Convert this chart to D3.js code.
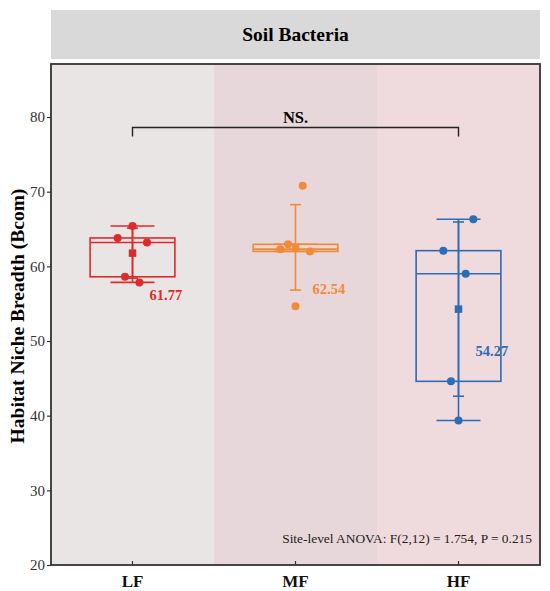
<!DOCTYPE html>
<html>
<head>
<meta charset="utf-8">
<script src="https://cdn.jsdelivr.net/npm/d3@7"></script>
<style>
body { margin: 0; background: #fff; }
text { font-family: "Liberation Serif", "Times New Roman", serif; }
</style>
</head>
<body>
<div id="chart"></div>
<script>
// data
const groups = ["LF", "MF", "HF"];
const valuesLF = [65.4, 63.8, 63.2, 58.6, 57.85];
const valuesMF = [70.8, 62.95, 62.3, 62.0, 54.65];
const valuesHF = [66.3, 62.1, 59.0, 44.6, 39.35];
const meanLabels = ["61.77", "62.54", "54.27"];
const yTicks = [20, 30, 40, 50, 60, 70, 80];
// jitter as a fraction of the band width
const jitterLF = [0, -0.091, 0.089, -0.046, 0.042];
const jitterMF = [0.044, -0.046, -0.093, 0.089, 0];
const jitterHF = [0.091, -0.093, 0.044, -0.046, 0];

const colors = ["#DD2A2B", "#F08B3B", "#2E6CB4"];
const bandFills = ["#E9E5E5", "#E8D7DA", "#EFDADD"];

const title = "Soil Bacteria",
	yLabel = "Habitat Niche Breadth (Bcom)",
	anova = "Site-level ANOVA: F(2,12) = 1.754, P = 0.215",
	sigLabel = "NS.";

// NB: "top" is a read-only window global, so plot edges get their own names
var W = 550, H = 591,
	pLeft = 51, pRight = 540, pTop = 64, pBottom = 565;

var series = [valuesLF, valuesMF, valuesHF],
	jitters = [jitterLF, jitterMF, jitterHF];

var svg = d3.select("#chart").append("svg")
	.attr("width", W).attr("height", H);

var x = d3.scaleBand().domain(groups).range([pLeft, pRight]).padding(0);
var y = d3.scaleLinear().domain([20, 87.1]).range([pBottom, pTop]);
var bw = x.bandwidth();

// header strip
svg.append("rect")
	.attr("x", pLeft).attr("y", 10)
	.attr("width", pRight - pLeft).attr("height", 49)
	.attr("fill", "#D9D9D9");
svg.append("text")
	.attr("x", (pLeft + pRight) / 2).attr("y", 41)
	.attr("text-anchor", "middle")
	.style("font-weight", "bold").style("font-size", "19.5px")
	.text(title);

// coloured group bands
svg.selectAll(".band").data(groups).enter().append("rect")
	.attr("class", "band")
	.attr("x", function (d) { return x(d); })
	.attr("y", pTop)
	.attr("width", bw)
	.attr("height", pBottom - pTop)
	.attr("fill", function (d, i) { return bandFills[i]; });

function stats(vals) {
	var s = vals.slice().sort(d3.ascending);
	var q1 = d3.quantile(s, 0.25), med = d3.quantile(s, 0.5), q3 = d3.quantile(s, 0.75);
	var iqr = q3 - q1;
	var lo = d3.min(s.filter(function (v) { return v >= q1 - 1.5 * iqr; }));
	var hi = d3.max(s.filter(function (v) { return v <= q3 + 1.5 * iqr; }));
	return { q1: q1, med: med, q3: q3, lo: lo, hi: hi, mean: d3.mean(s), sd: d3.deviation(s) };
}

groups.forEach(function (g, i) {
	var st = stats(series[i]),
		c = colors[i],
		cx = x(g) + bw / 2,
		boxW = bw * 0.52,
		capW = bw * 0.27,
		sdCapW = 11;
	var gg = svg.append("g").attr("stroke", c).attr("stroke-width", 1.6).attr("fill", "none");

	// whisker (1.5 IQR) and SD bar
	gg.append("line").attr("x1", cx).attr("x2", cx).attr("y1", y(st.lo)).attr("y2", y(st.hi));
	gg.append("line").attr("x1", cx).attr("x2", cx)
		.attr("y1", y(st.mean - st.sd)).attr("y2", y(st.mean + st.sd));
	[st.lo, st.hi].forEach(function (v) {
		gg.append("line").attr("x1", cx - capW / 2).attr("x2", cx + capW / 2)
			.attr("y1", y(v)).attr("y2", y(v));
	});
	[st.mean - st.sd, st.mean + st.sd].forEach(function (v) {
		gg.append("line").attr("x1", cx - sdCapW / 2).attr("x2", cx + sdCapW / 2)
			.attr("y1", y(v)).attr("y2", y(v));
	});

	// box + median
	gg.append("rect")
		.attr("x", cx - boxW / 2).attr("y", y(st.q3))
		.attr("width", boxW).attr("height", y(st.q1) - y(st.q3));
	gg.append("line").attr("x1", cx - boxW / 2).attr("x2", cx + boxW / 2)
		.attr("y1", y(st.med)).attr("y2", y(st.med));

	// raw points
	svg.selectAll(".pt" + i).data(series[i]).enter().append("circle")
		.attr("cx", function (d, j) { return cx + jitters[i][j] * bw; })
		.attr("cy", function (d) { return y(d); })
		.attr("r", 4)
		.attr("fill", c);

	// mean
	svg.append("rect")
		.attr("x", cx - 3.75).attr("y", y(st.mean) - 3.75)
		.attr("width", 7.5).attr("height", 7.5)
		.attr("fill", c);

	svg.append("text")
		.attr("x", cx + 17).attr("y", y(st.mean) + 47)
		.attr("fill", c)
		.style("font-weight", "bold").style("font-size", "14.5px")
		.text(meanLabels[i]);
});

// significance bracket
var bx1 = x("LF") + bw / 2, bx2 = x("HF") + bw / 2, by = 127.5;
svg.append("path")
	.attr("d", "M" + bx1 + "," + (by + 9) + "V" + by + "H" + bx2 + "V" + (by + 9))
	.attr("fill", "none").attr("stroke", "#222").attr("stroke-width", 1.4);
svg.append("text")
	.attr("x", (bx1 + bx2) / 2).attr("y", by - 5)
	.attr("text-anchor", "middle")
	.style("font-weight", "bold").style("font-size", "16.5px")
	.text(sigLabel);

svg.append("text")
	.attr("x", 532).attr("y", 543)
	.attr("text-anchor", "end")
	.attr("fill", "#222")
	.style("font-size", "13.4px")
	.text(anova);

// axes
var yAxis = svg.append("g")
	.attr("transform", "translate(" + pLeft + ",0)")
	.call(d3.axisLeft(y).tickValues(yTicks).tickSize(4).tickPadding(2));
var xAxis = svg.append("g")
	.attr("transform", "translate(0," + pBottom + ")")
	.call(d3.axisBottom(x).tickSize(-4).tickPadding(10));
yAxis.select(".domain").remove();
xAxis.select(".domain").remove();
yAxis.selectAll("line").attr("stroke", "#333").attr("stroke-width", 1.2);
xAxis.selectAll("line").attr("stroke", "#333").attr("stroke-width", 1.2);
yAxis.selectAll("text")
	.attr("fill", "#333")
	.style("font-family", "'Liberation Serif', serif").style("font-size", "15px");
xAxis.selectAll("text")
	.attr("fill", "#111")
	.attr("dy", "0.71em")
	.style("font-family", "'Liberation Serif', serif").style("font-size", "17px")
	.style("font-weight", "bold");

// frame
svg.append("rect")
	.attr("x", pLeft).attr("y", pTop)
	.attr("width", pRight - pLeft).attr("height", pBottom - pTop)
	.attr("fill", "none").attr("stroke", "#333").attr("stroke-width", 1.8);

svg.append("text")
	.attr("transform", "translate(23.5,316) rotate(-90)")
	.attr("text-anchor", "middle")
	.style("font-weight", "bold").style("font-size", "19.5px")
	.text(yLabel);
</script>
</body>
</html>
